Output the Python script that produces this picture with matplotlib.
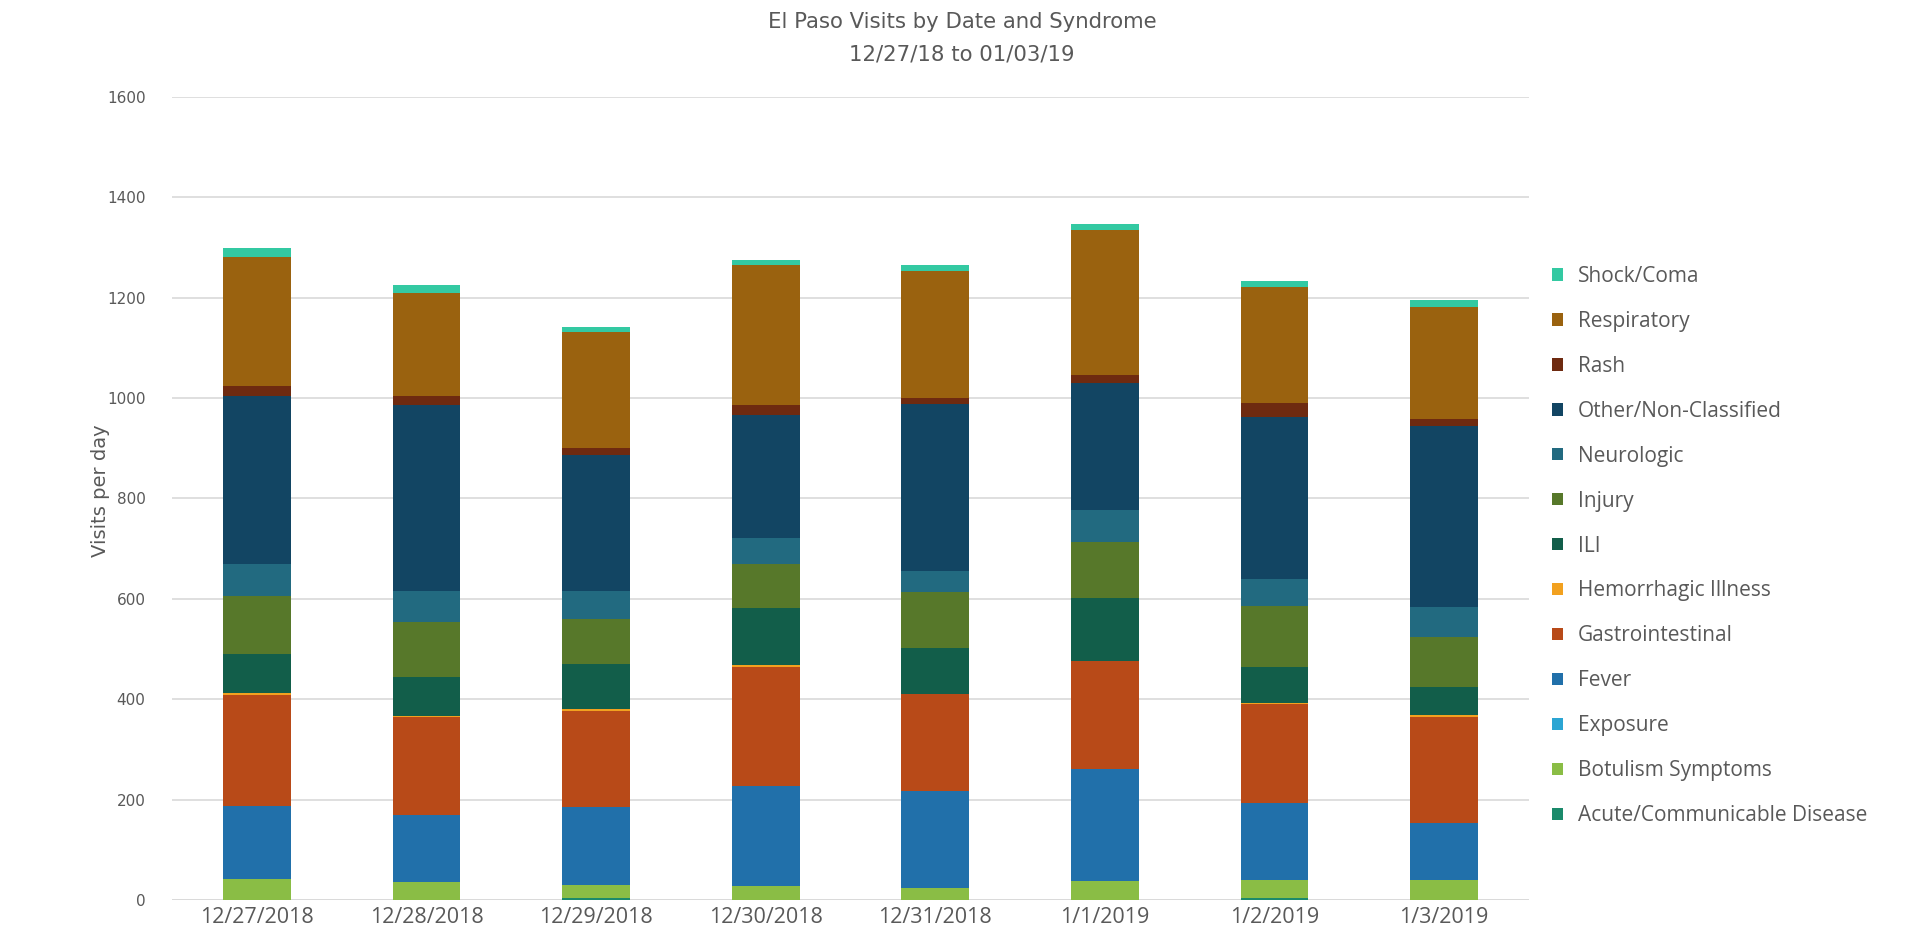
import numpy as np
import matplotlib
matplotlib.use("Agg")
import matplotlib.pyplot as plt
from matplotlib.patches import Patch

# Dates on the x axis
dates = ["12/27/2018", "12/28/2018", "12/29/2018", "12/30/2018",
         "12/31/2018", "1/1/2019", "1/2/2019", "1/3/2019"]

# Visits per syndrome (bottom of the stack first)
acute = [0, 0, 3, 0, 0, 0, 3, 0]
botulism = [42, 36, 26, 28, 23, 37, 37, 40]
exposure = [0, 0, 0, 0, 0, 0, 0, 0]
fever = [145, 133, 156, 199, 194, 225, 153, 114]
gastro = [222, 196, 192, 238, 193, 214, 197, 210]
hemorrhagic = [4, 2, 4, 3, 1, 1, 3, 5]
ili = [78, 78, 89, 113, 92, 124, 72, 56]
injury = [115, 108, 89, 89, 111, 112, 121, 100]
neuro = [64, 63, 57, 52, 42, 65, 54, 58]
other = [335, 370, 271, 244, 333, 253, 323, 362]
rash = [19, 19, 14, 21, 12, 16, 27, 14]
respiratory = [257, 205, 231, 278, 252, 287, 232, 223]
shock = [18, 15, 10, 10, 13, 13, 12, 13]

series = [
    ("Acute/Communicable Disease", acute, "#1b8a6b"),
    ("Botulism Symptoms", botulism, "#8abd45"),
    ("Exposure", exposure, "#2ba5d3"),
    ("Fever", fever, "#2170aa"),
    ("Gastrointestinal", gastro, "#b84a18"),
    ("Hemorrhagic Illness", hemorrhagic, "#f2a11f"),
    ("ILI", ili, "#125e4a"),
    ("Injury", injury, "#57782a"),
    ("Neurologic", neuro, "#226a80"),
    ("Other/Non-Classified", other, "#124563"),
    ("Rash", rash, "#6e2a10"),
    ("Respiratory", respiratory, "#9a620f"),
    ("Shock/Coma", shock, "#33c9a2"),
]

grey = "#595959"

fig = plt.figure(figsize=(19.18, 9.34), dpi=100)
ax = fig.add_axes([172 / 1918, 34 / 934, (1529 - 172) / 1918, (900 - 97) / 934])

x = np.arange(len(dates))
bottom = np.zeros(len(dates))
for name, vals, col in series:
    vals = np.array(vals, dtype=float)
    ax.bar(x, vals, width=0.4, bottom=bottom, color=col, zorder=3)
    bottom += vals

ax.set_xlim(-0.5, 7.5)
ax.set_ylim(0, 1600)
ax.set_yticks(np.arange(0, 1601, 200))
ax.yaxis.grid(True, color="#d9d9d9", linewidth=1.2, zorder=0)
for s in ax.spines.values():
    s.set_visible(False)
ax.axhline(0, color="#d9d9d9", linewidth=1.2, zorder=1)
ax.tick_params(axis="both", length=0, colors=grey)
ax.tick_params(axis="y", labelsize=11, pad=19)
ax.tick_params(axis="x", labelsize=15.5, pad=5)
ax.set_xticks(x)
ax.set_xticklabels(dates, family="Open Sans")
ax.set_ylabel("Visits per day", fontsize=14, color=grey)
ax.yaxis.set_label_coords(-0.046, 0.51)

fig.text(0.5016, 1 - 22 / 934, "El Paso Visits by Date and Syndrome",
         ha="center", va="center", fontsize=15.3, color=grey)
fig.text(0.5016, 1 - 55 / 934, "12/27/18 to 01/03/19",
         ha="center", va="center", fontsize=15.3, color=grey)

handles = [Patch(facecolor=col, label=name) for name, vals, col in series][::-1]
fig.legend(handles=handles, loc="upper left",
           bbox_to_anchor=(1533 / 1918, 1 - 247 / 934),
           frameon=False, prop={"family": "Open Sans", "size": 15},
           labelcolor=grey, handlelength=0.55, handleheight=0.55,
           handletextpad=0.7, labelspacing=1.15)

fig.savefig("out.png", dpi=100)
